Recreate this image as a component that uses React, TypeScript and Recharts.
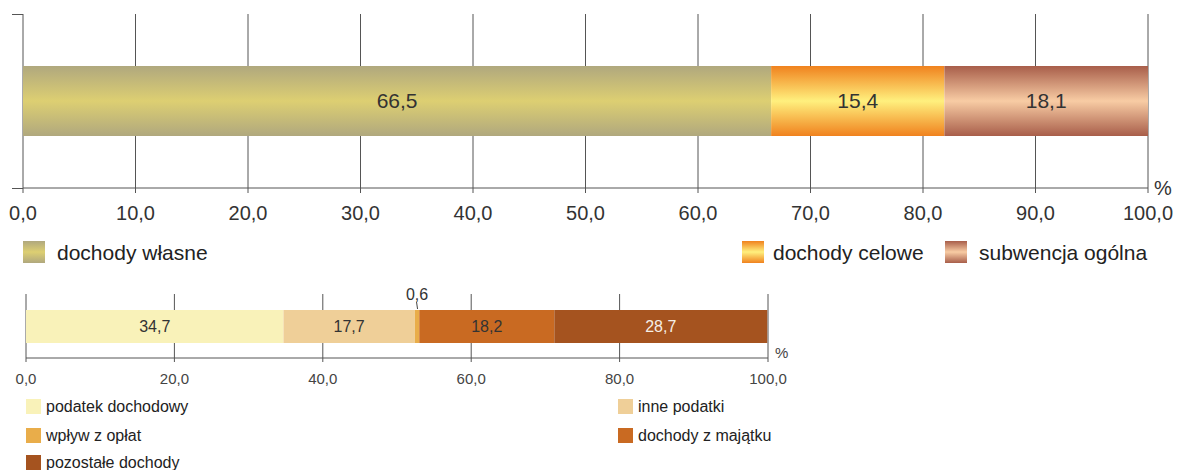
import React from "react";
import { BarChart, Bar, XAxis, YAxis, CartesianGrid, LabelList, Customized } from "recharts";

const topSeries = ["dochody własne", "dochody celowe", "subwencja ogólna"];
const topValues = [66.5, 15.4, 18.1];
const topTicks = [0, 10, 20, 30, 40, 50, 60, 70, 80, 90, 100];

const bottomSeries = ["podatek dochodowy", "inne podatki", "wpływ z opłat", "dochody z majątku", "pozostałe dochody"];
const bottomValues = [34.7, 17.7, 0.6, 18.2, 28.7];
const bottomTicks = [0, 20, 40, 60, 80, 100];

const FONT = "'Liberation Sans', Arial, sans-serif";
const LINE = "#555";

const topGradients = [
  ["#b0a87e", "#ddcf72"],
  ["#f0821e", "#fff07e"],
  ["#a85e4a", "#f8cca4"],
];
const bottomColors = ["#f9f2b9", "#efcf98", "#e9ad4a", "#c96a22", "#a5531f"];
const bottomLabelColors = ["#333", "#333", "#333", "#333", "#f6efe6"];

const topRow: Record<string, any> = { name: "a" };
topValues.forEach((v, i) => (topRow["s" + i] = v));
const bottomRow: Record<string, any> = { name: "b" };
bottomValues.forEach((v, i) => (bottomRow["s" + i] = v));

const fmt = (v: any) => Number(v).toFixed(1).replace(".", ",");

const TopExtras = () => (
  <g>
    <line x1={12} y1={14.5} x2={23} y2={14.5} stroke={LINE} strokeWidth={1} />
    <line x1={12} y1={188.5} x2={23} y2={188.5} stroke={LINE} strokeWidth={1} />
    <text x={1154} y={195} fontSize={20} fontFamily={FONT} fill="#333">%</text>
  </g>
);

const BottomExtras = () => (
  <g>
    <text x={775} y={88} fontSize={15} fontFamily={FONT} fill="#444">%</text>
  </g>
);

const SmallLabel = (props: any) => {
  const { x, y, width, value } = props;
  const cx = x + width / 2;
  return (
    <g>
      <line x1={cx + 0.5} y1={y - 1} x2={cx - 0.5} y2={y - 8} stroke="#444" strokeWidth={1} />
      <text x={cx} y={y - 10} textAnchor="middle" fontSize={16} fontFamily={FONT} fill="#333">
        {fmt(value)}
      </text>
    </g>
  );
};

const Swatch = ({ x, y, size, bg }: any) => (
  <div style={{ position: "absolute", left: x, top: y, width: size, height: size, background: bg }} />
);

const LegendText = ({ x, y, size, children }: any) => (
  <div
    style={{
      position: "absolute",
      left: x,
      top: y,
      fontSize: size,
      fontFamily: FONT,
      color: "#222",
      lineHeight: 1,
      whiteSpace: "nowrap",
      transform: "translateY(-50%)",
    }}
  >
    {children}
  </div>
);

const grad = (i: number) =>
  `linear-gradient(to bottom, ${topGradients[i][0]}, ${topGradients[i][1]} 50%, ${topGradients[i][0]})`;

export default function App() {
  const topLegend = [
    { sx: 23, tx: 57 },
    { sx: 742, tx: 773 },
    { sx: 945, tx: 979 },
  ];
  const bottomLegend = [
    { sx: 26, cy: 407 },
    { sx: 618, cy: 407 },
    { sx: 26, cy: 436 },
    { sx: 618, cy: 436 },
    { sx: 26, cy: 463 },
  ];
  return (
    <div style={{ position: "absolute", left: 0, top: 0, width: 1177, height: 470, background: "#fff", overflow: "hidden" }}>
      <div style={{ position: "absolute", left: 0, top: 0 }}>
        <BarChart width={1177} height={240} data={[topRow]} layout="vertical" margin={{ top: 14, left: 23, right: 29, bottom: 12 }}>
          <defs>
            {topGradients.map((g, i) => (
              <linearGradient key={i} id={"tg" + i} x1="0" y1="0" x2="0" y2="1">
                <stop offset="0%" stopColor={g[0]} />
                <stop offset="50%" stopColor={g[1]} />
                <stop offset="100%" stopColor={g[0]} />
              </linearGradient>
            ))}
          </defs>
          <CartesianGrid horizontal={false} stroke={LINE} />
          <XAxis
            type="number"
            domain={[0, 100]}
            ticks={topTicks}
            interval={0}
            height={40}
            tickFormatter={fmt}
            tickSize={5}
            tickMargin={13}
            axisLine={{ stroke: LINE }}
            tickLine={{ stroke: LINE }}
            tick={{ fontSize: 20, fill: "#333", fontFamily: FONT }}
          />
          <YAxis type="category" dataKey="name" hide width={0} />
          {topSeries.map((s, i) => (
            <Bar key={s} dataKey={"s" + i} name={s} stackId="a" barSize={70} fill={`url(#tg${i})`} isAnimationActive={false}>
              <LabelList dataKey={"s" + i} position="center" formatter={fmt} fill="#333" fontSize={21} fontFamily={FONT} />
            </Bar>
          ))}
          <Customized component={TopExtras} />
        </BarChart>
      </div>

      {topSeries.map((s, i) => (
        <React.Fragment key={s}>
          <Swatch x={topLegend[i].sx} y={241} size={22} bg={grad(i)} />
          <LegendText x={topLegend[i].tx} y={252} size={21}>{s}</LegendText>
        </React.Fragment>
      ))}

      <div style={{ position: "absolute", left: 0, top: 270 }}>
        <BarChart width={800} height={130} data={[bottomRow]} layout="vertical" margin={{ top: 24, left: 26, right: 32, bottom: 12 }}>
          <CartesianGrid horizontal={false} stroke={LINE} />
          <XAxis
            type="number"
            domain={[0, 100]}
            ticks={bottomTicks}
            interval={0}
            height={30}
            tickFormatter={fmt}
            tickSize={4}
            tickMargin={11}
            axisLine={{ stroke: LINE }}
            tickLine={{ stroke: LINE }}
            tick={{ fontSize: 15, fill: "#444", fontFamily: FONT }}
          />
          <YAxis type="category" dataKey="name" hide width={0} />
          {bottomSeries.map((s, i) => (
            <Bar key={s} dataKey={"s" + i} name={s} stackId="a" barSize={33} fill={bottomColors[i]} isAnimationActive={false}>
              {i === 2 ? (
                <LabelList dataKey={"s" + i} content={SmallLabel} />
              ) : (
                <LabelList dataKey={"s" + i} position="center" formatter={fmt} fill={bottomLabelColors[i]} fontSize={16} fontFamily={FONT} />
              )}
            </Bar>
          ))}
          <Customized component={BottomExtras} />
        </BarChart>
      </div>

      {bottomSeries.map((s, i) => (
        <React.Fragment key={s}>
          <Swatch x={bottomLegend[i].sx} y={bottomLegend[i].cy - 8} size={15} bg={bottomColors[i]} />
          <LegendText x={bottomLegend[i].sx + 20} y={bottomLegend[i].cy} size={16}>{s}</LegendText>
        </React.Fragment>
      ))}
    </div>
  );
}
